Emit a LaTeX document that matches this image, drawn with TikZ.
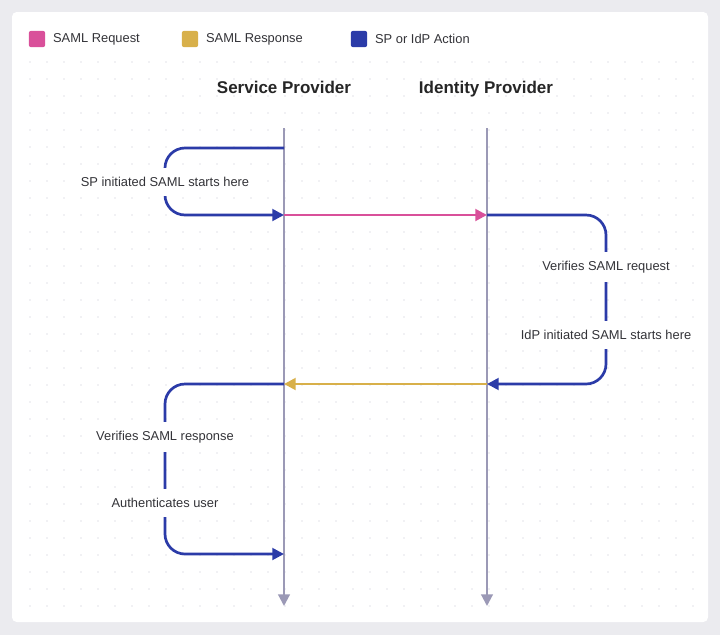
\documentclass[tikz,border=0pt]{standalone}
\usepackage{fontspec}
\setmainfont{Liberation Sans}
\usetikzlibrary{arrows.meta}
\definecolor{reqpink}{HTML}{D9509A}
\definecolor{resgold}{HTML}{D8B04A}
\definecolor{actblue}{HTML}{2B3BA8}
\definecolor{lifegray}{HTML}{9B99B6}
\definecolor{framegray}{HTML}{EBEBEF}
\definecolor{dotgray}{HTML}{E4E4EA}
\definecolor{txt}{HTML}{333338}

\begin{document}
\begin{tikzpicture}[x=0.03cm,y=-0.03cm,
  tip/.style={-{Triangle[length=10pt,width=10pt]}},
  msg/.style={tip,line width=2.3pt},
  act/.style={msg,draw=actblue,rounded corners=0.6cm},
  life/.style={tip,draw=lifegray,line width=1.8pt},
  lbl/.style={fill=white,text=txt,font=\fontsize{11}{13}\selectfont,inner xsep=2pt,inner ysep=8pt},
  head/.style={text=black!85,font=\fontsize{14.5}{17}\selectfont\bfseries,anchor=base},
  key/.style={rounded corners=2pt,minimum size=14pt,inner sep=0pt}]
  % frame
  \fill[framegray] (0,0) rectangle (720,635);
  \fill[white,rounded corners=4pt] (12,12) rectangle (708,622);
  \useasboundingbox (0,0) rectangle (720,635);
  % dot grid
  \foreach \x in {30,47,...,700}
    \foreach \y in {62,79,...,615}
      \fill[dotgray] (\x,\y) circle (0.8);
  % legend
  \node[key,fill=reqpink] (kreq) at (37,39) {};
  \node[anchor=west,text=txt,font=\fontsize{11}{13}\selectfont] (lreq) at (49,39) {SAML Request};
  \node[key,fill=resgold] (kres) at (190,39) {};
  \node[anchor=west,text=txt,font=\fontsize{11}{13}\selectfont] (lres) at (202,39) {SAML Response};
  \node[key,fill=actblue] (kact) at (359,39) {};
  \node[anchor=west,text=txt,font=\fontsize{11}{13}\selectfont] (lact) at (371,39) {SP or IdP Action};
  % headers
  \node[head] (sp) at (284,93) {Service Provider};
  \node[head] (idp) at (486,93) {Identity Provider};
  % lifelines
  \coordinate (sptop) at (284,128);
  \coordinate (spbot) at (284,606);
  \coordinate (idptop) at (487,128);
  \coordinate (idpbot) at (487,606);
  \draw[life] (sptop) -- (spbot);
  \draw[life] (idptop) -- (idpbot);
  % steps
  \coordinate (sp1) at (284,148);
  \coordinate (sp2) at (284,215);
  \coordinate (idp2) at (487,215);
  \coordinate (idp3) at (487,384);
  \coordinate (sp3) at (284,384);
  \coordinate (sp4) at (284,554);
  \draw[act] (sp1) -- ++(-119,0) |- (sp2);
  \draw[msg,draw=reqpink] (sp2) -- (idp2);
  \draw[act] (idp2) -- ++(119,0) |- (idp3);
  \draw[msg,draw=resgold] (idp3) -- (sp3);
  \draw[act] (sp3) -- ++(-119,0) |- (sp4);
  % labels
  \node[lbl] (spinit) at (165,182) {SP initiated SAML starts here};
  \node[lbl] (verreq) at (606,267) {Verifies SAML request};
  \node[lbl] (idpinit) at (606,335) {IdP initiated SAML starts here};
  \node[lbl] (verres) at (165,437) {Verifies SAML response};
  \node[lbl] (auth) at (165,503) {Authenticates user};
\end{tikzpicture}
\end{document}
